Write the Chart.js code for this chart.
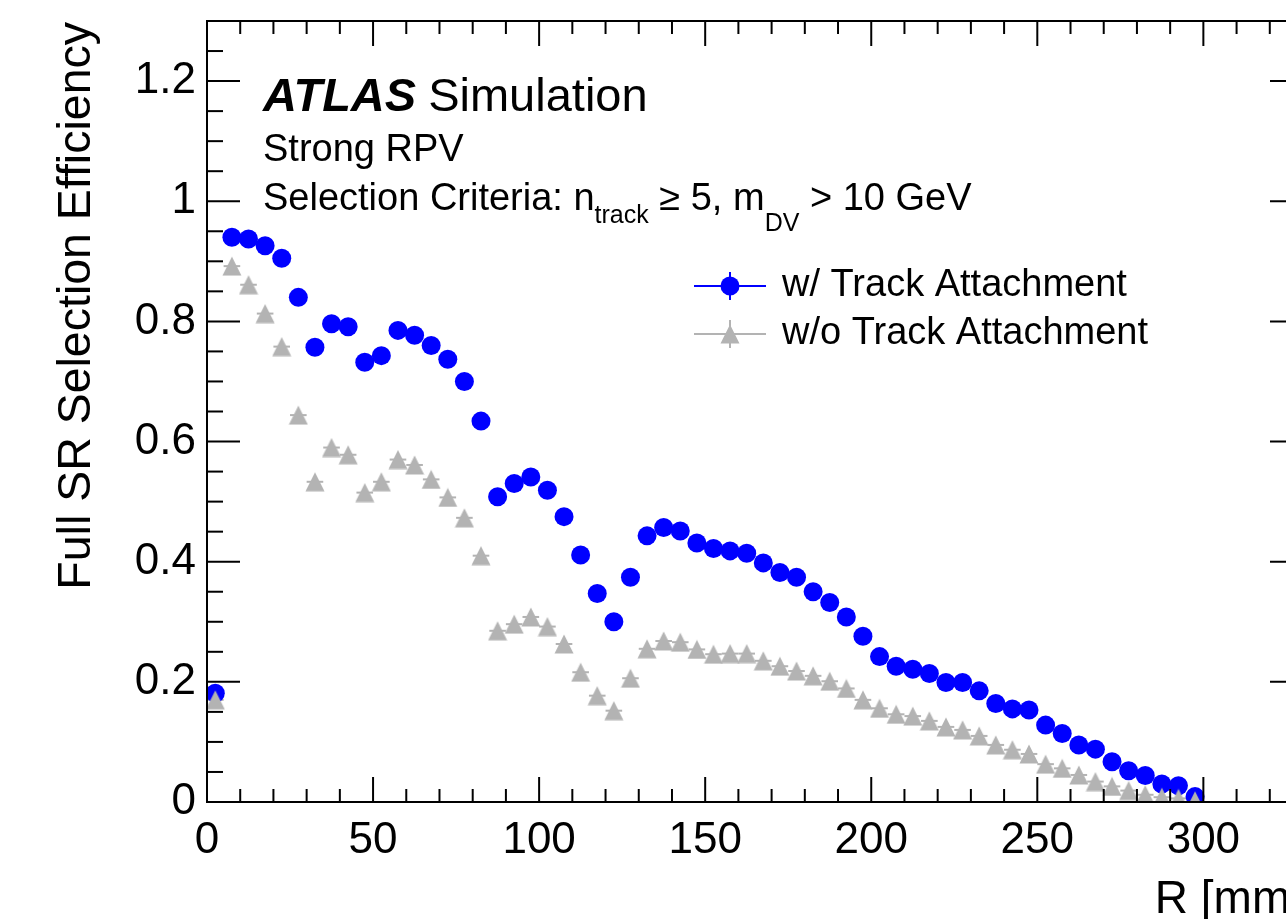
<!DOCTYPE html>
<html>
<head>
<meta charset="utf-8">
<script src="https://cdn.jsdelivr.net/npm/chart.js@4.4.0/dist/chart.umd.min.js"></script>
<style>
  html, body { margin: 0; padding: 0; background: #fff; overflow: hidden; }
  #wrap { width: 1330px; height: 919px; }
</style>
</head>
<body>
<div id="wrap"><canvas id="eff" width="1330" height="919"></canvas></div>
<script>
// R bin centres [mm], 5 mm bins
const binCentres = [
  2.5, 7.5, 12.5, 17.5, 22.5, 27.5, 32.5, 37.5, 42.5, 47.5,
  52.5, 57.5, 62.5, 67.5, 72.5, 77.5, 82.5, 87.5, 92.5, 97.5,
  102.5, 107.5, 112.5, 117.5, 122.5, 127.5, 132.5, 137.5, 142.5, 147.5,
  152.5, 157.5, 162.5, 167.5, 172.5, 177.5, 182.5, 187.5, 192.5, 197.5,
  202.5, 207.5, 212.5, 217.5, 222.5, 227.5, 232.5, 237.5, 242.5, 247.5,
  252.5, 257.5, 262.5, 267.5, 272.5, 277.5, 282.5, 287.5, 292.5, 297.5
];

// efficiency with track attachment
const effWith = [
  0.181, 0.940, 0.937, 0.926, 0.905, 0.840, 0.757, 0.796, 0.791, 0.732,
  0.743, 0.785, 0.777, 0.760, 0.737, 0.700, 0.634, 0.508, 0.530, 0.541,
  0.519, 0.475, 0.411, 0.347, 0.300, 0.374, 0.443, 0.457, 0.451, 0.431,
  0.422, 0.418, 0.414, 0.398, 0.382, 0.374, 0.350, 0.332, 0.308, 0.276,
  0.242, 0.226, 0.221, 0.214, 0.199, 0.199, 0.185, 0.164, 0.155, 0.153,
  0.128, 0.114, 0.095, 0.088, 0.067, 0.052, 0.044, 0.030, 0.027, 0.009
];

// efficiency without track attachment
const effWithout = [
  0.170, 0.892, 0.861, 0.813, 0.758, 0.644, 0.533, 0.590, 0.578, 0.515,
  0.533, 0.570, 0.561, 0.537, 0.507, 0.473, 0.410, 0.285, 0.296, 0.308,
  0.292, 0.263, 0.216, 0.177, 0.152, 0.206, 0.255, 0.268, 0.266, 0.254,
  0.246, 0.247, 0.247, 0.235, 0.226, 0.218, 0.210, 0.201, 0.189, 0.170,
  0.156, 0.146, 0.143, 0.135, 0.125, 0.120, 0.110, 0.095, 0.087, 0.080,
  0.063, 0.056, 0.045, 0.034, 0.026, 0.019, 0.012, 0.008, 0.006, 0.002
];

const binHalfWidth = 2.5;
const xTicks = [0, 50, 100, 150, 200, 250, 300];
const yTicks = [0, 0.2, 0.4, 0.6, 0.8, 1.0, 1.2];

const FONT = '"Liberation Sans", Arial, Helvetica, sans-serif';
const BLUE = '#0000ff';
const GREY = '#b3b3b3';

const toPoints = (ys) => binCentres.map((r, i) => ({ x: r, y: ys[i] }));

// ROOT-like full triangle marker: as tall as it is wide
function makeTriangle(size, color) {
  const c = document.createElement('canvas');
  c.width = size;
  c.height = size;
  const g = c.getContext('2d');
  g.fillStyle = color;
  g.beginPath();
  g.moveTo(size / 2, 0.5);
  g.lineTo(size - 0.5, size - 0.5);
  g.lineTo(0.5, size - 0.5);
  g.closePath();
  g.fill();
  return c;
}
const triangleMarker = makeTriangle(20, GREY);

// horizontal bin-width bars under the markers
const errorBars = {
  id: 'errorBars',
  beforeDatasetsDraw(chart) {
    const { ctx, scales: { x, y } } = chart;
    ctx.save();
    ctx.lineWidth = 2;
    chart.data.datasets.forEach((ds) => {
      ctx.strokeStyle = ds.backgroundColor;
      ds.data.forEach((p) => {
        const py = y.getPixelForValue(p.y);
        ctx.beginPath();
        ctx.moveTo(x.getPixelForValue(p.x - binHalfWidth), py);
        ctx.lineTo(x.getPixelForValue(p.x + binHalfWidth), py);
        ctx.stroke();
      });
    });
    ctx.restore();
  }
};

// frame with inward ticks on all four sides, plus labels and legend
const frame = {
  id: 'frame',
  afterDraw(chart) {
    const { ctx, chartArea: a, scales: { x, y } } = chart;
    const line = (x1, y1, x2, y2) => {
      ctx.beginPath(); ctx.moveTo(x1, y1); ctx.lineTo(x2, y2); ctx.stroke();
    };
    ctx.save();
    ctx.strokeStyle = '#000';
    ctx.lineWidth = 2;
    ctx.strokeRect(a.left, a.top, a.right - a.left, a.bottom - a.top);

    for (let v = 0; v <= 330; v += 10) {
      const px = x.getPixelForValue(v);
      const len = v % 50 === 0 ? 25 : 13;
      line(px, a.bottom, px, a.bottom - len);
      line(px, a.top, px, a.top + len);
    }
    for (let k = 0; k <= 26; k++) {
      const py = y.getPixelForValue(k * 0.05);
      const len = k % 4 === 0 ? 33 : 16;
      line(a.left, py, a.left + len, py);
      line(a.right, py, a.right - len, py);
    }

    ctx.fillStyle = '#000';
    ctx.textBaseline = 'alphabetic';

    // axis titles, ROOT style: aligned to the far end of each axis
    ctx.font = '46px ' + FONT;
    ctx.textAlign = 'right';
    ctx.fillText('R [mm]', a.right, 913);
    ctx.save();
    ctx.translate(90, a.top + 1);
    ctx.rotate(-Math.PI / 2);
    ctx.font = '46.5px ' + FONT;
    ctx.fillText('Full SR Selection Efficiency', 0, 0);
    ctx.restore();

    // ATLAS label block
    ctx.textAlign = 'left';
    ctx.font = 'italic bold 47px ' + FONT;
    ctx.fillText('ATLAS', 263, 111);
    const wAtlas = ctx.measureText('ATLAS').width;
    ctx.font = '47px ' + FONT;
    ctx.fillText('Simulation', 263 + wAtlas + 12, 111);
    ctx.font = '38px ' + FONT;
    ctx.fillText('Strong RPV', 263, 161);

    let cx = 263;
    const seg = (t, size, dy) => {
      ctx.font = size + 'px ' + FONT;
      ctx.fillText(t, cx, 210 + dy);
      cx += ctx.measureText(t).width;
    };
    seg('Selection Criteria: n', 38, 0);
    seg('track', 25, 13);
    seg(' \u2265 5, m', 38, 0);
    seg('DV', 25, 21);
    seg(' > 10 GeV', 38, 0);

    // legend
    const rows = [
      { label: chart.data.datasets[1].label, color: BLUE, y: 286 },
      { label: chart.data.datasets[0].label, color: GREY, y: 334 }
    ];
    rows.forEach((row, i) => {
      ctx.strokeStyle = row.color;
      ctx.fillStyle = row.color;
      ctx.lineWidth = 2;
      line(694, row.y, 766, row.y);
      line(730, row.y - 14, 730, row.y + 14);
      if (i === 0) {
        ctx.beginPath();
        ctx.arc(730, row.y, 9.5, 0, Math.PI * 2);
        ctx.fill();
      } else {
        ctx.drawImage(triangleMarker, 730 - 10, row.y - 10);
      }
      ctx.fillStyle = '#000';
      ctx.font = '38px ' + FONT;
      ctx.textBaseline = 'middle';
      ctx.fillText(row.label, 782, row.y);
    });
    ctx.restore();
  }
};

new Chart(document.getElementById('eff'), {
  type: 'scatter',
  data: {
    datasets: [
      {
        label: 'w/o Track Attachment',
        data: toPoints(effWithout),
        pointStyle: triangleMarker,
        pointRadius: 10,
        backgroundColor: GREY,
        borderWidth: 0,
        order: 0
      },
      {
        label: 'w/ Track Attachment',
        data: toPoints(effWith),
        pointStyle: 'circle',
        pointRadius: 9.5,
        backgroundColor: BLUE,
        borderWidth: 0,
        order: 1
      }
    ]
  },
  options: {
    responsive: false,
    animation: false,
    events: [],
    layout: { padding: { top: 21, right: 27, left: 0, bottom: 0 } },
    plugins: { legend: { display: false }, tooltip: { enabled: false } },
    scales: {
      x: {
        type: 'linear',
        min: 0,
        max: 330,
        afterBuildTicks: (s) => { s.ticks = xTicks.map((v) => ({ value: v })); },
        afterFit: (s) => { s.height = 117; s.paddingLeft = 0; s.paddingRight = 0; },
        grid: { display: false, drawTicks: false },
        border: { display: false },
        ticks: {
          color: '#000',
          padding: 12,
          maxRotation: 0,
          autoSkip: false,
          font: { family: FONT, size: 44 }
        }
      },
      y: {
        type: 'linear',
        min: 0,
        max: 1.3,
        afterBuildTicks: (s) => { s.ticks = yTicks.map((v) => ({ value: v })); },
        afterFit: (s) => { s.width = 207; s.paddingTop = 0; s.paddingBottom = 0; },
        grid: { display: false, drawTicks: false },
        border: { display: false },
        ticks: {
          color: '#000',
          padding: 11,
          autoSkip: false,
          callback: (v) => String(Number(v.toFixed(1))),
          font: { family: FONT, size: 44 }
        }
      }
    }
  },
  plugins: [errorBars, frame]
});
</script>
</body>
</html>
